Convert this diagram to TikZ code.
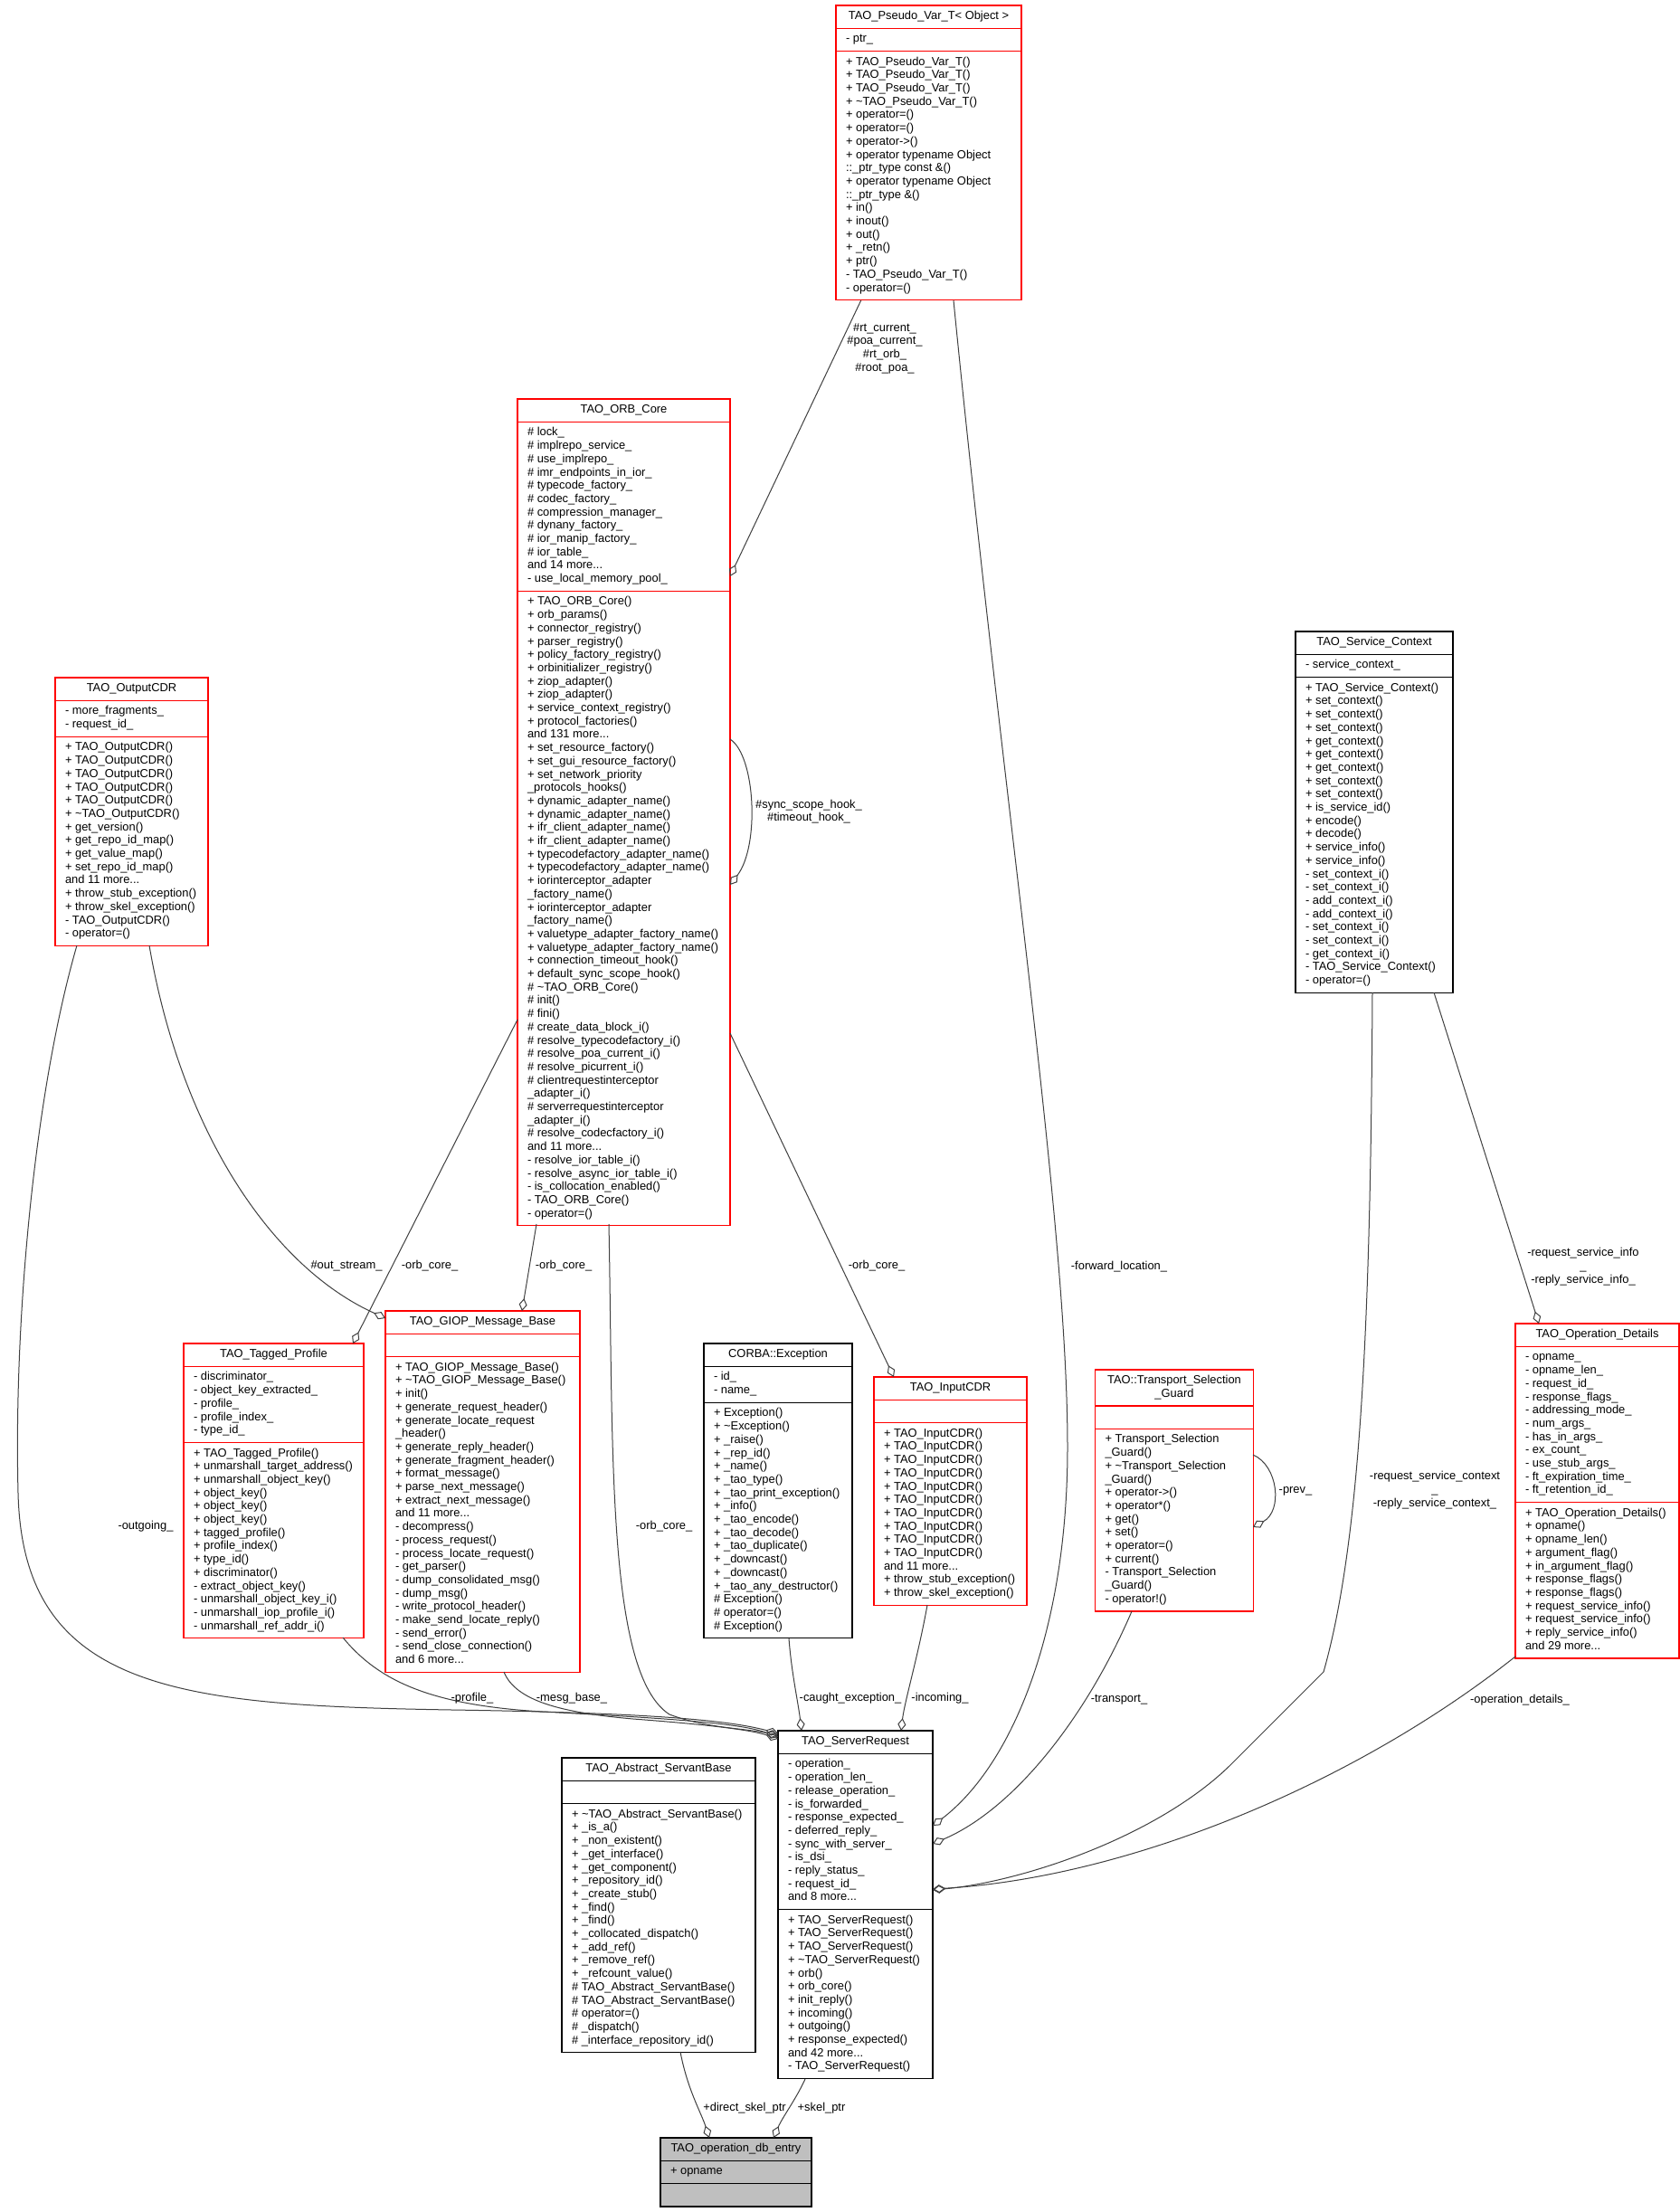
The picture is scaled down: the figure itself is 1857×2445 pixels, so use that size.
\documentclass[tikz,border=0pt]{standalone}
\usepackage{fontspec}
\setmainfont{Liberation Sans}
\usetikzlibrary{arrows.meta,calc,backgrounds}
\newcommand\fs{\fontsize{12.9}{14.7}\selectfont}
\tikzset{
 txt/.style={inner xsep=11pt, inner ysep=5.3pt, outer sep=0pt, font=\fs, align=left, anchor=north west},
 ttl/.style={inner xsep=0pt, inner ysep=5.3pt, outer sep=0pt, font=\fs, align=center, anchor=north},
 redbox/.style={draw=red, line width=1.3pt},
 blackbox/.style={draw=black, line width=1.3pt},
 greybox/.style={draw=black, fill=black!25, line width=1.3pt},
 conn/.style={draw=black!75, line width=1pt, -{Diamond[open,length=14pt,width=9pt]}},
 lbl/.style={font=\fs, align=center, inner sep=0pt},
}
\newcommand\cls[8]{%
 \node[ttl] (#1-t) at ({#2+#4/2},#3) {\strut #6\strut};
 \node[txt] (#1-a) at ($(#1-t.south)+({-#4/2},0)$) {\strut #7\strut};
 \node[txt] (#1-m) at (#1-a.south west) {\strut #8\strut};
 \begin{pgfonlayer}{background}
 \path[#5] (#2,#3) rectangle ($(#1-m.south west)+(#4,0)$);
 \draw[#5] ($(#1-t.south)+({-#4/2},0)$) -- ++(#4,0);
 \draw[#5] (#1-a.south west) -- ++(#4,0);
 \end{pgfonlayer}
}
\begin{document}
\begin{tikzpicture}[x=1pt,y=-1pt]
\useasboundingbox (0,0) rectangle (1857,2445);
\begin{pgfonlayer}{background}
\fill[white] (0,0) rectangle (1857,2445);
\end{pgfonlayer}

% ---------------- classes ----------------
\cls{pv}{924}{6}{205}{redbox}{TAO\_Pseudo\_Var\_T< Object >}{- ptr\_}{%
+ TAO\_Pseudo\_Var\_T()\\+ TAO\_Pseudo\_Var\_T()\\+ TAO\_Pseudo\_Var\_T()\\+ \textasciitilde TAO\_Pseudo\_Var\_T()\\%
+ operator=()\\+ operator=()\\+ operator->()\\+ operator typename Object\\::\_ptr\_type const \&()\\%
+ operator typename Object\\::\_ptr\_type \&()\\+ in()\\+ inout()\\+ out()\\+ \_retn()\\+ ptr()\\%
- TAO\_Pseudo\_Var\_T()\\- operator=()}

\cls{orb}{572}{441}{235}{redbox}{TAO\_ORB\_Core}{%
\# lock\_\\\# implrepo\_service\_\\\# use\_implrepo\_\\\# imr\_endpoints\_in\_ior\_\\\# typecode\_factory\_\\%
\# codec\_factory\_\\\# compression\_manager\_\\\# dynany\_factory\_\\\# ior\_manip\_factory\_\\\# ior\_table\_\\%
and 14 more...\\- use\_local\_memory\_pool\_}{%
+ TAO\_ORB\_Core()\\+ orb\_params()\\+ connector\_registry()\\+ parser\_registry()\\+ policy\_factory\_registry()\\%
+ orbinitializer\_registry()\\+ ziop\_adapter()\\+ ziop\_adapter()\\+ service\_context\_registry()\\%
+ protocol\_factories()\\and 131 more...\\+ set\_resource\_factory()\\+ set\_gui\_resource\_factory()\\%
+ set\_network\_priority\\\_protocols\_hooks()\\+ dynamic\_adapter\_name()\\+ dynamic\_adapter\_name()\\%
+ ifr\_client\_adapter\_name()\\+ ifr\_client\_adapter\_name()\\+ typecodefactory\_adapter\_name()\\%
+ typecodefactory\_adapter\_name()\\+ iorinterceptor\_adapter\\\_factory\_name()\\+ iorinterceptor\_adapter\\%
\_factory\_name()\\+ valuetype\_adapter\_factory\_name()\\+ valuetype\_adapter\_factory\_name()\\%
+ connection\_timeout\_hook()\\+ default\_sync\_scope\_hook()\\\# \textasciitilde TAO\_ORB\_Core()\\\# init()\\%
\# fini()\\\# create\_data\_block\_i()\\\# resolve\_typecodefactory\_i()\\\# resolve\_poa\_current\_i()\\%
\# resolve\_picurrent\_i()\\\# clientrequestinterceptor\\\_adapter\_i()\\\# serverrequestinterceptor\\%
\_adapter\_i()\\\# resolve\_codecfactory\_i()\\and 11 more...\\- resolve\_ior\_table\_i()\\%
- resolve\_async\_ior\_table\_i()\\- is\_collocation\_enabled()\\- TAO\_ORB\_Core()\\- operator=()}

\cls{oc}{61}{749}{169}{redbox}{TAO\_OutputCDR}{- more\_fragments\_\\- request\_id\_}{%
+ TAO\_OutputCDR()\\+ TAO\_OutputCDR()\\+ TAO\_OutputCDR()\\+ TAO\_OutputCDR()\\+ TAO\_OutputCDR()\\%
+ \textasciitilde TAO\_OutputCDR()\\+ get\_version()\\+ get\_repo\_id\_map()\\+ get\_value\_map()\\%
+ set\_repo\_id\_map()\\and 11 more...\\+ throw\_stub\_exception()\\+ throw\_skel\_exception()\\%
- TAO\_OutputCDR()\\- operator=()}

\cls{sc}{1432}{698}{174}{blackbox}{TAO\_Service\_Context}{- service\_context\_}{%
+ TAO\_Service\_Context()\\+ set\_context()\\+ set\_context()\\+ set\_context()\\+ get\_context()\\%
+ get\_context()\\+ get\_context()\\+ set\_context()\\+ set\_context()\\+ is\_service\_id()\\+ encode()\\%
+ decode()\\+ service\_info()\\+ service\_info()\\- set\_context\_i()\\- set\_context\_i()\\%
- add\_context\_i()\\- add\_context\_i()\\- set\_context\_i()\\- set\_context\_i()\\- get\_context\_i()\\%
- TAO\_Service\_Context()\\- operator=()}

\cls{tp}{203}{1485}{199}{redbox}{TAO\_Tagged\_Profile}{%
- discriminator\_\\- object\_key\_extracted\_\\- profile\_\\- profile\_index\_\\- type\_id\_}{%
+ TAO\_Tagged\_Profile()\\+ unmarshall\_target\_address()\\+ unmarshall\_object\_key()\\+ object\_key()\\%
+ object\_key()\\+ object\_key()\\+ tagged\_profile()\\+ profile\_index()\\+ type\_id()\\+ discriminator()\\%
- extract\_object\_key()\\- unmarshall\_object\_key\_i()\\- unmarshall\_iop\_profile\_i()\\- unmarshall\_ref\_addr\_i()}

\cls{gm}{426}{1449}{215}{redbox}{TAO\_GIOP\_Message\_Base}{}{%
+ TAO\_GIOP\_Message\_Base()\\+ \textasciitilde TAO\_GIOP\_Message\_Base()\\+ init()\\+ generate\_request\_header()\\%
+ generate\_locate\_request\\\_header()\\+ generate\_reply\_header()\\+ generate\_fragment\_header()\\%
+ format\_message()\\+ parse\_next\_message()\\+ extract\_next\_message()\\and 11 more...\\%
- decompress()\\- process\_request()\\- process\_locate\_request()\\- get\_parser()\\%
- dump\_consolidated\_msg()\\- dump\_msg()\\- write\_protocol\_header()\\- make\_send\_locate\_reply()\\%
- send\_error()\\- send\_close\_connection()\\and 6 more...}

\cls{ex}{778}{1485}{164}{blackbox}{CORBA::Exception}{- id\_\\- name\_}{%
+ Exception()\\+ \textasciitilde Exception()\\+ \_raise()\\+ \_rep\_id()\\+ \_name()\\+ \_tao\_type()\\%
+ \_tao\_print\_exception()\\+ \_info()\\+ \_tao\_encode()\\+ \_tao\_decode()\\+ \_tao\_duplicate()\\%
+ \_downcast()\\+ \_downcast()\\+ \_tao\_any\_destructor()\\\# Exception()\\\# operator=()\\\# Exception()}

\cls{ic}{966}{1522}{169}{redbox}{TAO\_InputCDR}{}{%
+ TAO\_InputCDR()\\+ TAO\_InputCDR()\\+ TAO\_InputCDR()\\+ TAO\_InputCDR()\\+ TAO\_InputCDR()\\%
+ TAO\_InputCDR()\\+ TAO\_InputCDR()\\+ TAO\_InputCDR()\\+ TAO\_InputCDR()\\+ TAO\_InputCDR()\\%
and 11 more...\\+ throw\_stub\_exception()\\+ throw\_skel\_exception()}

\cls{tg}{1210.5}{1514}{175}{redbox}{TAO::Transport\_Selection\\\_Guard}{}{%
+ Transport\_Selection\\\_Guard()\\+ \textasciitilde Transport\_Selection\\\_Guard()\\+ operator->()\\%
+ operator*()\\+ get()\\+ set()\\+ operator=()\\+ current()\\- Transport\_Selection\\\_Guard()\\- operator!()}

\cls{od}{1675}{1463}{181}{redbox}{TAO\_Operation\_Details}{%
- opname\_\\- opname\_len\_\\- request\_id\_\\- response\_flags\_\\- addressing\_mode\_\\- num\_args\_\\%
- has\_in\_args\_\\- ex\_count\_\\- use\_stub\_args\_\\- ft\_expiration\_time\_\\- ft\_retention\_id\_}{%
+ TAO\_Operation\_Details()\\+ opname()\\+ opname\_len()\\+ argument\_flag()\\+ in\_argument\_flag()\\%
+ response\_flags()\\+ response\_flags()\\+ request\_service\_info()\\+ request\_service\_info()\\%
+ reply\_service\_info()\\and 29 more...}

\cls{asb}{621}{1943}{214}{blackbox}{TAO\_Abstract\_ServantBase}{}{%
+ \textasciitilde TAO\_Abstract\_ServantBase()\\+ \_is\_a()\\+ \_non\_existent()\\+ \_get\_interface()\\%
+ \_get\_component()\\+ \_repository\_id()\\+ \_create\_stub()\\+ \_find()\\+ \_find()\\%
+ \_collocated\_dispatch()\\+ \_add\_ref()\\+ \_remove\_ref()\\+ \_refcount\_value()\\%
\# TAO\_Abstract\_ServantBase()\\\# TAO\_Abstract\_ServantBase()\\\# operator=()\\\# \_dispatch()\\%
\# \_interface\_repository\_id()}

\cls{sr}{860}{1913}{171}{blackbox}{TAO\_ServerRequest}{%
- operation\_\\- operation\_len\_\\- release\_operation\_\\- is\_forwarded\_\\- response\_expected\_\\%
- deferred\_reply\_\\- sync\_with\_server\_\\- is\_dsi\_\\- reply\_status\_\\- request\_id\_\\and 8 more...}{%
+ TAO\_ServerRequest()\\+ TAO\_ServerRequest()\\+ TAO\_ServerRequest()\\+ \textasciitilde TAO\_ServerRequest()\\%
+ orb()\\+ orb\_core()\\+ init\_reply()\\+ incoming()\\+ outgoing()\\+ response\_expected()\\%
and 42 more...\\- TAO\_ServerRequest()}

\cls{db}{730}{2363}{167}{greybox}{TAO\_operation\_db\_entry}{+ opname}{}

% ---------------- connector ends ----------------
\coordinate (pvA) at (951.7,332);  \coordinate (orbR1) at (807,637);
\coordinate (orbL1) at (807,817);  \coordinate (orbL2) at (807,978);
\coordinate (pvB) at (1054,332);   \coordinate (srR1) at (1031,2018);
\coordinate (scA) at (1585,1097);  \coordinate (odT) at (1701,1463);
\coordinate (scB) at (1517,1097);  \coordinate (srR3) at (1031,2089);
\coordinate (odA) at (1675,1831);  \coordinate (srR4) at (1031,2088);
\coordinate (tgA) at (1251,1781);  \coordinate (srR2) at (1031,2038);
\coordinate (tgL1) at (1385,1608); \coordinate (tgL2) at (1385,1688);
\coordinate (ocA) at (85,1045);    \coordinate (srL1) at (860,1916);
\coordinate (ocB) at (165,1045);   \coordinate (gmL) at (426,1457);
\coordinate (orbA) at (572,1127);  \coordinate (tpT) at (390,1485);
\coordinate (orbB) at (593,1353);  \coordinate (gmT) at (577,1449);
\coordinate (orbC) at (807,1142);  \coordinate (icT) at (988,1522);
\coordinate (orbD) at (673,1353);  \coordinate (srL2) at (860,1918);
\coordinate (tpA) at (379,1810);   \coordinate (srL3) at (860,1920);
\coordinate (gmA) at (557,1848);   \coordinate (srL4) at (860,1922);
\coordinate (exA) at (872,1811);   \coordinate (srT1) at (886,1913);
\coordinate (icA) at (1025,1774);  \coordinate (srT2) at (996,1913);
\coordinate (asbA) at (752,2268);  \coordinate (dbT1) at (784,2363);
\coordinate (srA) at (890,2298);   \coordinate (dbT2) at (855,2363);

% ---------------- connectors ----------------
\draw[conn] (pvA) -- (orbR1);
\draw[conn] (orbL1) .. controls (835,835) and (840,935) .. (orbL2);
\draw[conn] (pvB) .. controls (1110,900) and (1180,1350) .. (1180,1600) .. controls (1180,1800) and (1120,1950) .. (srR1);
\draw[conn] (scA) -- (odT);
\draw[conn] (scB) .. controls (1515,1450) and (1505,1700) .. (1463,1848) -- (1361,1950) .. controls (1280,2030) and (1130,2080) .. (srR3);
\draw[conn] (odA) .. controls (1500,1970) and (1250,2075) .. (srR4);
\draw[conn] (tgA) .. controls (1200,1900) and (1120,2000) .. (srR2);
\draw[conn] (tgL1) .. controls (1413,1620) and (1418,1670) .. (tgL2);
\draw[conn] (ocA) .. controls (40,1200) and (15,1450) .. (20,1650) .. controls (25,1870) and (200,1885) .. (500,1890) .. controls (700,1893) and (800,1900) .. (srL1);
\draw[conn] (ocB) .. controls (200,1250) and (300,1400) .. (gmL);
\draw[conn] (orbA) -- (tpT);
\draw[conn] (orbB) -- (gmT);
\draw[conn] (orbC) -- (icT);
\draw[conn] (orbD) .. controls (678,1600) and (670,1850) .. (740,1895) .. controls (780,1910) and (820,1910) .. (srL2);
\draw[conn] (tpA) .. controls (420,1860) and (480,1885) .. (600,1892) .. controls (750,1900) and (820,1905) .. (srL3);
\draw[conn] (gmA) .. controls (570,1880) and (620,1893) .. (700,1900) .. controls (780,1906) and (830,1912) .. (srL4);
\draw[conn] (exA) .. controls (875,1850) and (882,1880) .. (srT1);
\draw[conn] (icA) .. controls (1015,1830) and (1000,1880) .. (srT2);
\draw[conn] (asbA) .. controls (760,2310) and (775,2335) .. (dbT1);
\draw[conn] (srA) .. controls (880,2320) and (865,2340) .. (dbT2);

% ---------------- labels ----------------
\node[lbl] (L1) at (978,385) {\#rt\_current\_\\\#poa\_current\_\\\#rt\_orb\_\\\#root\_poa\_};
\node[lbl] (L2) at (894,897) {\#sync\_scope\_hook\_\\\#timeout\_hook\_};
\node[lbl] (L3) at (1237,1400) {-forward\_location\_};
\node[lbl] (L4) at (1750,1400) {-request\_service\_info\\\_\\-reply\_service\_info\_};
\node[lbl] (L5) at (1586,1647) {-request\_service\_context\\\_\\-reply\_service\_context\_};
\node[lbl] (L6) at (1432,1648) {-prev\_};
\node[lbl] (L7) at (383,1399) {\#out\_stream\_};
\node[lbl] (L8) at (475,1399) {-orb\_core\_};
\node[lbl] (L9) at (623,1399) {-orb\_core\_};
\node[lbl] (L10) at (969,1399) {-orb\_core\_};
\node[lbl] (L11) at (161,1687) {-outgoing\_};
\node[lbl] (L12) at (734,1687) {-orb\_core\_};
\node[lbl] (L13) at (522,1877) {-profile\_};
\node[lbl] (L14) at (632,1877) {-mesg\_base\_};
\node[lbl] (L15) at (940,1877) {-caught\_exception\_};
\node[lbl] (L16) at (1039,1877) {-incoming\_};
\node[lbl] (L17) at (1237,1879) {-transport\_};
\node[lbl] (L18) at (1680,1879) {-operation\_details\_};
\node[lbl] (L19) at (823,2330) {+direct\_skel\_ptr};
\node[lbl] (L20) at (908,2330) {+skel\_ptr};
\end{tikzpicture}
\end{document}
